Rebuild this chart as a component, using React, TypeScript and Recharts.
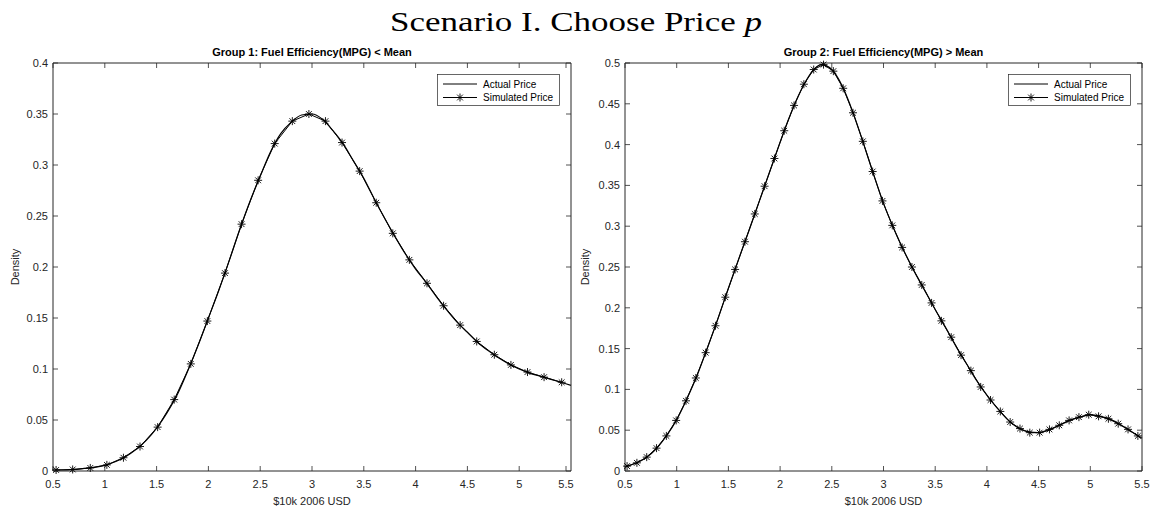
import React from 'react';
import { LineChart, Line, XAxis, YAxis, Legend } from 'recharts';

const FONT = "'Liberation Sans', Arial, Helvetica, sans-serif";
const AXIS = '#262626';
const TICK_LEN = 5;

const priceTicks = [0.5, 1, 1.5, 2, 2.5, 3, 3.5, 4, 4.5, 5, 5.5];
const g1DensityTicks = [0, 0.05, 0.1, 0.15, 0.2, 0.25, 0.3, 0.35, 0.4];
const g2DensityTicks = [0, 0.05, 0.1, 0.15, 0.2, 0.25, 0.3, 0.35, 0.4, 0.45, 0.5];

// kernel density of the observed prices, sampled every $1k
const actualPrice = [
  0.5, 0.6, 0.7, 0.8, 0.9, 1.0, 1.1, 1.2, 1.3, 1.4, 1.5, 1.6, 1.7, 1.8, 1.9, 2.0, 2.1,
  2.2, 2.3, 2.4, 2.5, 2.6, 2.7, 2.8, 2.9, 3.0, 3.1, 3.2, 3.3, 3.4, 3.5, 3.6, 3.7, 3.8,
  3.9, 4.0, 4.1, 4.2, 4.3, 4.4, 4.5, 4.6, 4.7, 4.8, 4.9, 5.0, 5.1, 5.2, 5.3, 5.4, 5.5,
];
const g1Actual = [
  0.001, 0.001, 0.0015, 0.0025, 0.0035, 0.0055, 0.009, 0.014, 0.021, 0.03, 0.042, 0.057,
  0.075, 0.098, 0.123, 0.15, 0.177, 0.206, 0.236, 0.264, 0.289, 0.313, 0.331, 0.342, 0.349,
  0.35, 0.345, 0.334, 0.321, 0.304, 0.287, 0.267, 0.248, 0.23, 0.213, 0.198, 0.185, 0.171,
  0.158, 0.146, 0.136, 0.126, 0.118, 0.111, 0.105, 0.1, 0.096, 0.093, 0.09, 0.087, 0.084,
];
const g2Actual = [
  0.005, 0.0095, 0.016, 0.027, 0.043, 0.063, 0.089, 0.118, 0.152, 0.187, 0.224, 0.26,
  0.295, 0.331, 0.367, 0.403, 0.437, 0.466, 0.488, 0.498, 0.492, 0.472, 0.441, 0.404, 0.365,
  0.328, 0.297, 0.269, 0.244, 0.221, 0.198, 0.176, 0.153, 0.132, 0.111, 0.093, 0.077, 0.063,
  0.053, 0.048, 0.047, 0.05, 0.056, 0.062, 0.066, 0.069, 0.067, 0.063, 0.056, 0.048, 0.04,
];

// simulated prices, evaluated on each group's own grid
const g1SimPrice = [
  0.53, 0.69, 0.86, 1.02, 1.18, 1.34, 1.51, 1.67, 1.83, 1.99, 2.16, 2.32, 2.48, 2.64, 2.81,
  2.97, 3.13, 3.29, 3.46, 3.62, 3.78, 3.94, 4.11, 4.27, 4.43, 4.59, 4.76, 4.92, 5.08, 5.24, 5.41,
];
const g1Simulated = [
  0.001, 0.0015, 0.003, 0.006, 0.013, 0.024, 0.043, 0.07, 0.105, 0.147, 0.194, 0.242, 0.285,
  0.321, 0.343, 0.35, 0.343, 0.322, 0.294, 0.263, 0.233, 0.207, 0.184, 0.162, 0.143, 0.127,
  0.114, 0.104, 0.097, 0.092, 0.087,
];
const g2SimPrice = [
  0.52, 0.615, 0.71, 0.805, 0.9, 0.995, 1.09, 1.185, 1.28, 1.375, 1.47, 1.565, 1.66, 1.755,
  1.85, 1.945, 2.04, 2.135, 2.23, 2.325, 2.42, 2.515, 2.61, 2.705, 2.8, 2.895, 2.99, 3.085,
  3.18, 3.275, 3.37, 3.465, 3.56, 3.655, 3.75, 3.845, 3.94, 4.035, 4.13, 4.225, 4.32, 4.415,
  4.51, 4.605, 4.7, 4.795, 4.89, 4.985, 5.08, 5.175, 5.27, 5.365, 5.46,
];
const g2Simulated = [
  0.006, 0.01, 0.017, 0.028, 0.043, 0.062, 0.086, 0.114, 0.145, 0.178, 0.213, 0.247, 0.281,
  0.315, 0.349, 0.383, 0.417, 0.448, 0.474, 0.492, 0.498, 0.49, 0.469, 0.439, 0.404, 0.367,
  0.331, 0.301, 0.274, 0.25, 0.228, 0.206, 0.184, 0.164, 0.142, 0.123, 0.103, 0.087, 0.073,
  0.06, 0.052, 0.047, 0.047, 0.051, 0.056, 0.062, 0.066, 0.069, 0.067, 0.064, 0.058, 0.051, 0.043,
];

const toRows = (price: number[], density: number[]) =>
  price.map((p, i) => ({ p, d: density[i] }));

function Star({ cx, cy, r = 4 }: { cx: number; cy: number; r?: number }) {
  const d = r * 0.72;
  return (
    <g stroke="#000" strokeWidth={0.9}>
      <line x1={cx - r} y1={cy} x2={cx + r} y2={cy} />
      <line x1={cx} y1={cy - r} x2={cx} y2={cy + r} />
      <line x1={cx - d} y1={cy - d} x2={cx + d} y2={cy + d} />
      <line x1={cx - d} y1={cy + d} x2={cx + d} y2={cy - d} />
    </g>
  );
}

const renderStar = (props: any) => {
  const { cx, cy, index } = props;
  if (cx == null || cy == null) return <g key={`s${index}`} />;
  return (
    <g key={`s${index}`}>
      <Star cx={cx} cy={cy} />
    </g>
  );
};

// MATLAB-style ticks: short marks pointing into the plot box, label outside
const tickFmt = (v: number) => String(v);

function BottomTick({ x, y, payload, gap }: any) {
  const axisY = y - gap;
  return (
    <g>
      <line x1={x} x2={x} y1={axisY} y2={axisY - TICK_LEN} stroke={AXIS} strokeWidth={0.8} />
      <text x={x} y={y + 8} textAnchor="middle" fontSize={11} fontFamily={FONT} fill={AXIS}>
        {tickFmt(payload.value)}
      </text>
    </g>
  );
}

function LeftTick({ x, y, payload, gap }: any) {
  const axisX = x + gap;
  return (
    <g>
      <line x1={axisX} x2={axisX + TICK_LEN} y1={y} y2={y} stroke={AXIS} strokeWidth={0.8} />
      <text x={x} y={y + 4} textAnchor="end" fontSize={11} fontFamily={FONT} fill={AXIS}>
        {tickFmt(payload.value)}
      </text>
    </g>
  );
}

function TopTick({ x, y }: any) {
  return <line x1={x} x2={x} y1={y} y2={y + TICK_LEN} stroke={AXIS} strokeWidth={0.8} />;
}

function RightTick({ x, y }: any) {
  return <line x1={x} x2={x - TICK_LEN} y1={y} y2={y} stroke={AXIS} strokeWidth={0.8} />;
}

function LegendBox() {
  return (
    <svg width={123} height={32} style={{ display: 'block' }}>
      <rect x={0.5} y={0.5} width={122} height={31} fill="#fff" stroke={AXIS} strokeWidth={0.7} />
      <line x1={6} x2={40} y1={10} y2={10} stroke="#000" strokeWidth={1} />
      <text x={46} y={13.5} fontSize={10} fontFamily={FONT} fill="#000">Actual Price</text>
      <line x1={6} x2={40} y1={23.5} y2={23.5} stroke="#000" strokeWidth={1} />
      <Star cx={23} cy={23.5} />
      <text x={46} y={27} fontSize={10} fontFamily={FONT} fill="#000">Simulated Price</text>
    </svg>
  );
}

function PanelTitle({ viewBox, text }: any) {
  return (
    <text x={viewBox.x + viewBox.width / 2} y={56} textAnchor="middle" fontSize={11}
      fontWeight="bold" fontFamily={FONT} fill="#000">
      {text}
    </text>
  );
}

function PriceLabel({ viewBox }: any) {
  return (
    <text x={viewBox.x + viewBox.width / 2} y={viewBox.y + 34} textAnchor="middle"
      fontSize={11} fontFamily={FONT} fill={AXIS}>
      $10k 2006 USD
    </text>
  );
}

function DensityLabel({ viewBox, at }: any) {
  const x = viewBox.x + at;
  const y = viewBox.y + viewBox.height / 2;
  return (
    <text x={x} y={y} transform={`rotate(-90, ${x}, ${y})`} textAnchor="middle"
      fontSize={11} fontFamily={FONT} fill={AXIS}>
      Density
    </text>
  );
}

interface PanelProps {
  title: string;
  actual: number[];
  simPrice: number[];
  simulated: number[];
  yTicks: number[];
  yAxisWidth: number;
  rightGap: number;
  labelAt: number;
  legendLeft: number;
}

function Panel({ title, actual, simPrice, simulated, yTicks, yAxisWidth, rightGap, labelAt, legendLeft }: PanelProps) {
  const yDomain = [0, yTicks[yTicks.length - 1]];
  return (
    <LineChart width={576} height={510} margin={{ top: 62, right: rightGap, bottom: 0, left: 0 }}>
      <XAxis xAxisId="bottom" type="number" dataKey="p" domain={[0.5, 5.5]} ticks={priceTicks}
        height={39} tickSize={0} tickMargin={9} tickLine={false} tick={<BottomTick gap={9} />}
        stroke={AXIS} label={<PriceLabel />} />
      <XAxis xAxisId="top" orientation="top" type="number" dataKey="p" domain={[0.5, 5.5]}
        ticks={priceTicks} height={1} tickSize={0} tickMargin={0} tickLine={false}
        tick={<TopTick />} stroke={AXIS} label={<PanelTitle text={title} />} />
      <YAxis yAxisId="left" type="number" domain={yDomain} ticks={yTicks} width={yAxisWidth}
        tickSize={0} tickMargin={5} tickLine={false} tick={<LeftTick gap={5} />} stroke={AXIS}
        label={<DensityLabel at={labelAt} />} />
      <YAxis yAxisId="right" orientation="right" type="number" domain={yDomain} ticks={yTicks}
        width={1} tickSize={0} tickMargin={0} tickLine={false} tick={<RightTick />} stroke={AXIS} />
      <Line xAxisId="top" yAxisId="right" data={toRows(actualPrice, actual)} dataKey="d"
        type="monotone" stroke="#000" strokeWidth={1.2} dot={false} isAnimationActive={false}
        name="Actual Price" />
      <Line xAxisId="bottom" yAxisId="left" data={toRows(simPrice, simulated)} dataKey="d"
        type="linear" stroke="#000" strokeWidth={1} dot={renderStar} isAnimationActive={false}
        name="Simulated Price" />
      <Legend layout="vertical" align="center" verticalAlign="middle" content={<LegendBox />}
        wrapperStyle={{ top: 74, left: legendLeft, width: 123, height: 32 }} />
    </LineChart>
  );
}

export default function App() {
  return (
    <div style={{ position: 'fixed', left: 0, top: 0, width: 1152, height: 510, background: '#fff' }}>
      <svg width={1152} height={40} style={{ position: 'absolute', left: 0, top: 0 }}>
        <text x={576} y={30.5} textAnchor="middle" fontSize={27}
          fontFamily="'Liberation Serif', 'Times New Roman', serif" fill="#000"
          textLength={372} lengthAdjust="spacingAndGlyphs">
          Scenario I. Choose Price <tspan fontStyle="italic">p</tspan>
        </text>
      </svg>
      <div style={{ position: 'absolute', left: 0, top: 0 }}>
        <Panel title="Group 1: Fuel Efficiency(MPG) < Mean" actual={g1Actual}
          simPrice={g1SimPrice} simulated={g1Simulated} yTicks={g1DensityTicks}
          yAxisWidth={53} rightGap={4} labelAt={19} legendLeft={437} />
      </div>
      <div style={{ position: 'absolute', left: 576, top: 0 }}>
        <Panel title="Group 2: Fuel Efficiency(MPG) > Mean" actual={g2Actual}
          simPrice={g2SimPrice} simulated={g2Simulated} yTicks={g2DensityTicks}
          yAxisWidth={49} rightGap={9} labelAt={13} legendLeft={432} />
      </div>
    </div>
  );
}
